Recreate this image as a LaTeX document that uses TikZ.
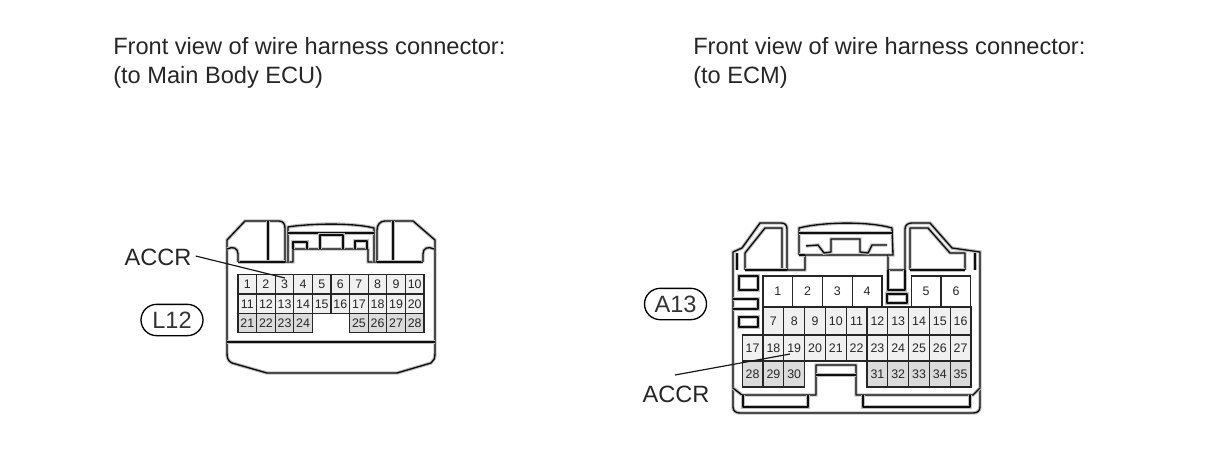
\documentclass[tikz,border=0pt]{standalone}
\usepackage{fontspec}
\setmainfont{Liberation Sans}
\usetikzlibrary{positioning,shapes.misc}
\newdimen\hdim
\newdimen\wdim
\tikzstyle{pin}=[
  draw=black!85,
  fill=black!6,
  font={\fontsize{9.3}{10}\selectfont},
  inner sep=0pt,
  line width=.85pt,
  minimum height=\hdim,
  minimum width=\wdim,
  outer sep=0pt,
  rectangle,
  text=black!85,
]
\tikzstyle{housing}=[
  color=black!95,
  line width=1pt,
  line join=round,
  preaction={draw=black!25,line width=2.6pt},
]
\tikzstyle{heading}=[
  anchor=base west,
  color=black!85,
  font={\fontsize{17.7}{20}\selectfont},
  inner sep=0pt,
]
\tikzstyle{tag}=[
  color=black!85,
  draw=black,
  font={\fontsize{17.7}{20}\selectfont},
  inner sep=0pt,
  line width=1pt,
  minimum height=23.5pt,
  minimum width=46.5pt,
  rounded rectangle,
  text=black!80,
]
\tikzstyle{callout}=[
  color=black!85,
  font={\fontsize{17.7}{20}\selectfont},
  inner sep=0pt,
]
\tikzstyle{leader}=[
  color=black!90,
  line width=.9pt,
]
\tikzset{x=.75pt,y=-.75pt}

\begin{document}
\begin{tikzpicture}
  \useasboundingbox (0,0) rectangle (1210,474);
  %% headings
  \node (headLa) [heading] at (113,54.5) {Front view of wire harness connector:};
  \node (headLb) [heading] at (113,84) {(to Main Body ECU)};
  \node (headRa) [heading] at (693,54.5) {Front view of wire harness connector:};
  \node (headRb) [heading] at (693,84) {(to ECM)};
  %% L12 housing
  \draw [housing] (227,240) -- (227,353) .. controls (227,358) and (228,361) .. (232,363)
    -- (267,373) -- (397,373) -- (431,363) .. controls (434,361) and (435,358) .. (435,353)
    -- (435,240) -- (413,221) -- (385,221) .. controls (380,221) and (377,225) .. (377,230)
    -- (377,262) -- (368,262) -- (368,249) -- (293,249) -- (293,262) -- (285,262) -- (285,228)
    .. controls (285,224) and (283,221) .. (279,221) -- (245,221) -- cycle;
  \draw [housing] (268,221) -- (268,262);
  \draw [housing] (393,221) -- (393,262);
  \draw [housing] (238,262) -- (285,262);
  \draw [housing] (377,262) -- (423,262);
  \draw [housing] (227,249) .. controls (233,246) and (238,248) .. (238,254) -- (238,262);
  \draw [housing] (434,249) .. controls (428,246) and (423,248) .. (423,254) -- (423,262);
  \draw [housing] (288,262) -- (288,227) .. controls (305,224) and (350,222) .. (374,228) -- (374,262);
  \draw [housing] (288,233) -- (374,233);
  \draw [housing] (293,249) -- (293,242) -- (307,242) -- (307,249);
  \draw [housing] (320,249) -- (320,235) -- (343,235) -- (343,249);
  \draw [housing] (355,249) -- (355,241) -- (367,241) -- (367,249);
  \draw [housing] (227,342) -- (435,342);
  %% L12 pins
  \wdim=13.95pt
  \hdim=14.6pt
  \foreach \n [count=\i from 0] in {1,...,10}
    \node (L\n) [pin] at ({247.3+18.6*\i},284) {\n};
  \foreach \n [count=\i from 0] in {11,...,20}
    \node (L\n) [pin] at ({247.3+18.6*\i},304) {\n};
  \foreach \n [count=\i from 0] in {21,...,24}
    \node (L\n) [pin, fill=black!14] at ({247.3+18.6*\i},323) {\n};
  \foreach \n [count=\i from 6] in {25,...,28}
    \node (L\n) [pin, fill=black!14] at ({247.3+18.6*\i},323) {\n};
  %% L12 labels
  \node (accrL) [callout] at (158,257) {ACCR};
  \node (tagL) [tag] at (172,320) {L12};
  \coordinate (accrLend) at (285,278);
  \draw [leader] (accrL.east)+(4,-1) -- (accrLend);
  %% A13 housing
  \draw [housing] (733,252) -- (733,407) .. controls (733,411) and (736,413) .. (740,413)
    -- (973,413) .. controls (977,413) and (980,411) .. (980,407) -- (980,252) -- (952,248)
    -- (930,223) -- (912,223) .. controls (908,223) and (905,225) .. (905,229) -- (905,270)
    -- (888,270) -- (888,255) -- (805,255) -- (805,270) -- (787,270) -- (787,229)
    .. controls (787,225) and (785,223) .. (781,223) -- (760,223) -- (742,248) -- cycle;
  \draw [housing] (745,270) -- (745,253) -- (765,228) -- (782,228) -- (782,270);
  \draw [housing] (965,270) -- (965,253) -- (950,253) -- (928,228) -- (910,228) -- (910,270);
  \draw [housing] (745,270) -- (787,270);
  \draw [housing] (910,270) -- (965,270);
  \draw [housing] (737,253) -- (737,270);
  \draw [housing] (975,253) -- (975,270);
  \draw [housing] (799,255) -- (799,228) .. controls (822,222) and (868,221) .. (892,228) -- (893,255) -- (888,255);
  \draw [housing] (799,255) -- (805,255);
  \draw [housing] (799,233) -- (892,233);
  \draw [housing] (806,246) -- (818,245) -- (824,253) -- (831,252) -- (831,239) -- (860,239)
    -- (860,252) -- (868,253) -- (872,245) -- (887,245);
  \draw [housing] (888,270) -- (888,290) -- (905,290) -- (905,270);
  \draw [housing] (887,294) rectangle (907,303);
  \draw [housing] (739,276) rectangle (758,290);
  \draw [housing] (733,299) -- (758,299) -- (758,309) -- (733,309);
  \draw [housing] (739,317) rectangle (758,327);
  %% A13 lower part
  \draw [housing] (733,388) -- (742,395) -- (816,395) -- (816,365) -- (856,365) -- (856,395)
    -- (973,395) -- (980,388);
  \draw [housing] (816,375) -- (856,375);
  \draw [housing] (743,395) -- (743,407) -- (808,407) -- (808,395);
  \draw [housing] (863,395) -- (863,407) -- (970,407) -- (970,395);
  %% A13 pins
  \wdim=22.3pt
  \hdim=23.2pt
  \foreach \n [count=\i from 0] in {1,...,4}
    \node (A\n) [pin, fill=white] at ({777.9+29.75*\i},291.5) {\n};
  \foreach \n [count=\i from 0] in {5,6}
    \node (A\n) [pin, fill=white] at ({926+30*\i},291.5) {\n};
  \wdim=15.6pt
  \hdim=21pt
  \foreach \n [count=\i from 0] in {7,...,16}
    \node (A\n) [pin] at ({773.4+20.8*\i},321) {\n};
  \hdim=19.5pt
  \foreach \n [count=\i from 0] in {17,...,27}
    \node (A\n) [pin] at ({752.6+20.8*\i},348) {\n};
  \foreach \n [count=\i from 0] in {28,29,30}
    \node (A\n) [pin, fill=black!14] at ({752.6+20.8*\i},374) {\n};
  \foreach \n [count=\i from 6] in {31,...,35}
    \node (A\n) [pin, fill=black!14] at ({752.6+20.8*\i},374) {\n};
  %% A13 labels
  \node (accrR) [callout] at (676,394) {ACCR};
  \node (tagR) [tag] at (675.5,304) {A13};
  \coordinate (accrRa) at (675,375);
  \coordinate (accrRb) at (790,354);
  \draw [leader] (accrRa) -- (accrRb);
\end{tikzpicture}
\end{document}
